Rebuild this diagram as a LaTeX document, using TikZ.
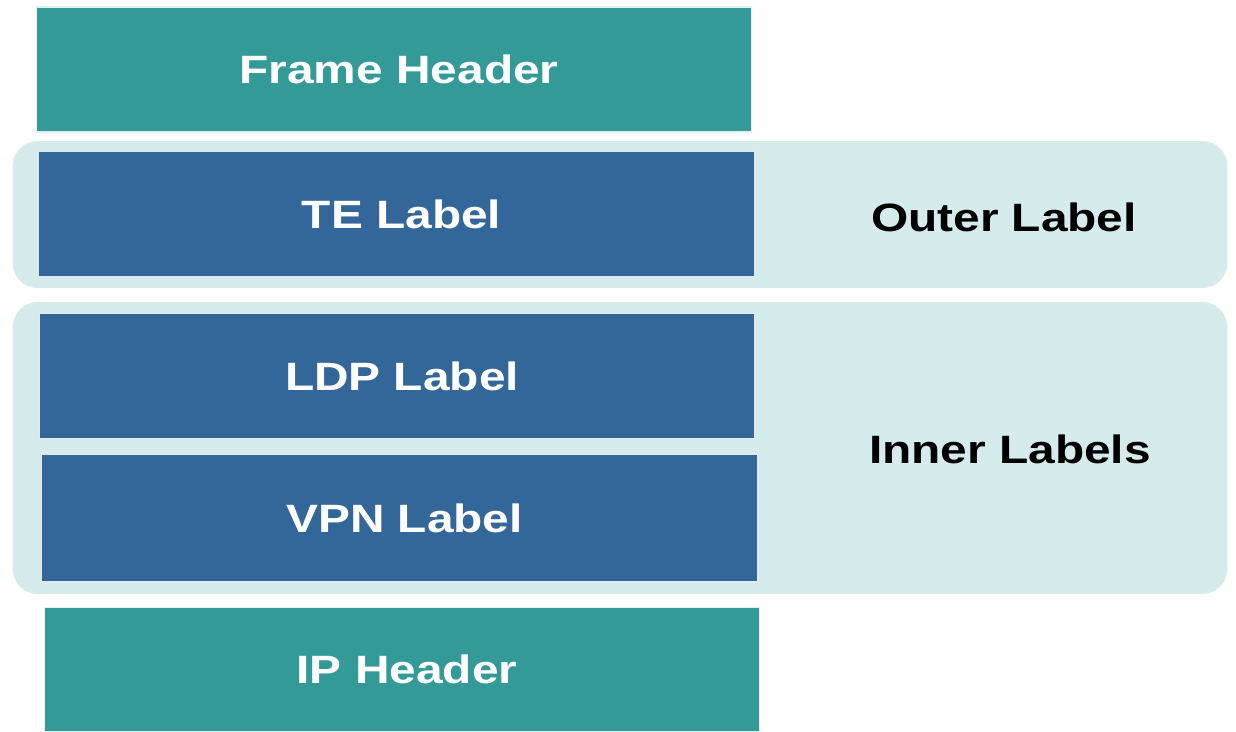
\documentclass[tikz,border=0pt]{standalone}
\usepackage{fontspec}
\setmainfont{Liberation Sans}
\newfontfamily\wideface{Liberation Sans}[FakeStretch=1.21]
\definecolor{hdrteal}{HTML}{349A97}
\definecolor{lblblue}{HTML}{336699}
\definecolor{grpbg}{HTML}{D6EBEB}
\tikzset{
  hdrbox/.style={rectangle,fill=hdrteal,draw=white!85!hdrteal,line width=0.6pt,
    minimum width=14.32cm,minimum height=2.5cm,inner sep=0pt,text=white,
    font=\wideface\fontsize{22.5}{26}\selectfont\bfseries,
    execute at begin node=\hspace{0.2cm}},
  lblbox/.style={hdrbox,fill=lblblue,draw=white!85!lblblue},
  grpbox/.style={rectangle,rounded corners=0.5cm,fill=grpbg,inner sep=0pt,
    minimum width=24.3cm},
  grptext/.style={text=black,font=\wideface\fontsize{22.5}{26}\selectfont\bfseries}
}
\begin{document}
\begin{tikzpicture}[x=0.02cm,y=-0.02cm]
\useasboundingbox (0,0) rectangle (1236,731);
\node[grpbox,minimum height=2.94cm] (OG) at (620,214.5) {};
\node[grpbox,minimum height=5.84cm] (IG) at (620,448) {};
\node[hdrbox] (FH) at (394,69.5) {Frame Header};
\node[lblbox] (TE) at (396.5,214) {TE Label};
\node[lblbox] (LDP) at (397,376) {LDP Label};
\node[lblbox,minimum height=2.56cm] (VPN) at (399.5,518) {VPN Label};
\node[hdrbox] (IP) at (402,669.5) {IP Header};
\node[grptext] (OL) at (1004,217) {Outer Label};
\node[grptext] (IL) at (1010,449) {Inner Labels};
\end{tikzpicture}
\end{document}
